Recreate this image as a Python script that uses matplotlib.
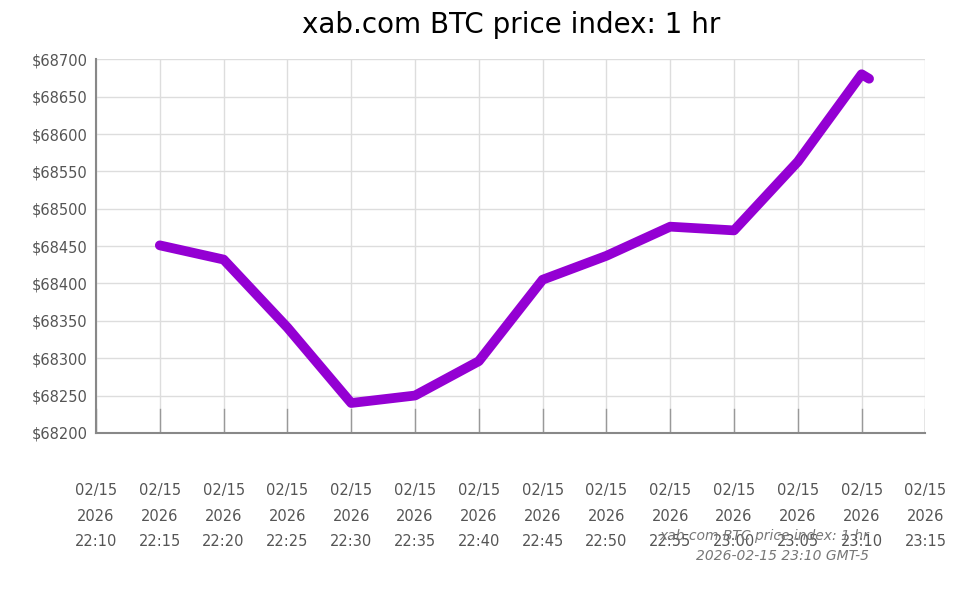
import matplotlib
matplotlib.use("Agg")
import matplotlib.pyplot as plt
import matplotlib.dates as mdates
import pandas as pd

times = pd.to_datetime(["2026-02-15 22:15:00", "2026-02-15 22:20:00", "2026-02-15 22:25:00",
                        "2026-02-15 22:30:00", "2026-02-15 22:35:00", "2026-02-15 22:40:00",
                        "2026-02-15 22:45:00", "2026-02-15 22:50:00", "2026-02-15 22:55:00",
                        "2026-02-15 23:00:00", "2026-02-15 23:05:00", "2026-02-15 23:10:00",
                        "2026-02-15 23:10:35"], format="%Y-%m-%d %H:%M:%S")
prices = [68451, 68432, 68341, 68240, 68250, 68296, 68405,
          68437, 68476, 68471, 68563, 68680, 68674]
yticks = list(range(68200, 68701, 50))

fig = plt.figure(figsize=(9.6, 5.93), dpi=100)
ax = fig.add_axes([0.1, 0.27, 0.864, 0.63])
ax.plot(times, prices, color="#9400d3", lw=7, solid_capstyle="round", solid_joinstyle="round", zorder=3)

ax.set_xlim(pd.Timestamp("2026-02-15 22:10"), pd.Timestamp("2026-02-15 23:15"))
ax.set_ylim(68200, 68700)
ax.set_yticks(yticks)
ax.set_yticklabels([f"${v}" for v in yticks])
ax.xaxis.set_major_locator(mdates.MinuteLocator(byminute=range(0, 60, 5)))
ax.xaxis.set_major_formatter(mdates.DateFormatter("%m/%d\n%Y\n%H:%M"))
ax.grid(True, color="#dddddd", lw=1)
ax.tick_params(axis="x", length=0, pad=36, labelsize=10.5, colors="#555555")
ax.tick_params(axis="y", length=0, pad=6, labelsize=10.5, colors="#555555")
for lab in ax.get_xticklabels():
    lab.set_linespacing(1.9)
for t in ax.get_xticks():
    ax.plot([t, t], [68200, 68232], color="#999999", lw=1, zorder=2)
for s in ["top", "right"]:
    ax.spines[s].set_visible(False)
for s in ["left", "bottom"]:
    ax.spines[s].set_color("#888888")
    ax.spines[s].set_linewidth(1.5)

fig.text(0.533, 0.945, "xab.com BTC price index: 1 hr", ha="center", fontsize=20)
fig.text(0.905, 0.055, "xab.com BTC price index: 1 hr\n2026-02-15 23:10 GMT-5",
         ha="right", fontsize=10, style="italic", color="#777777", linespacing=1.6)
fig.savefig("out.png", dpi=100)
